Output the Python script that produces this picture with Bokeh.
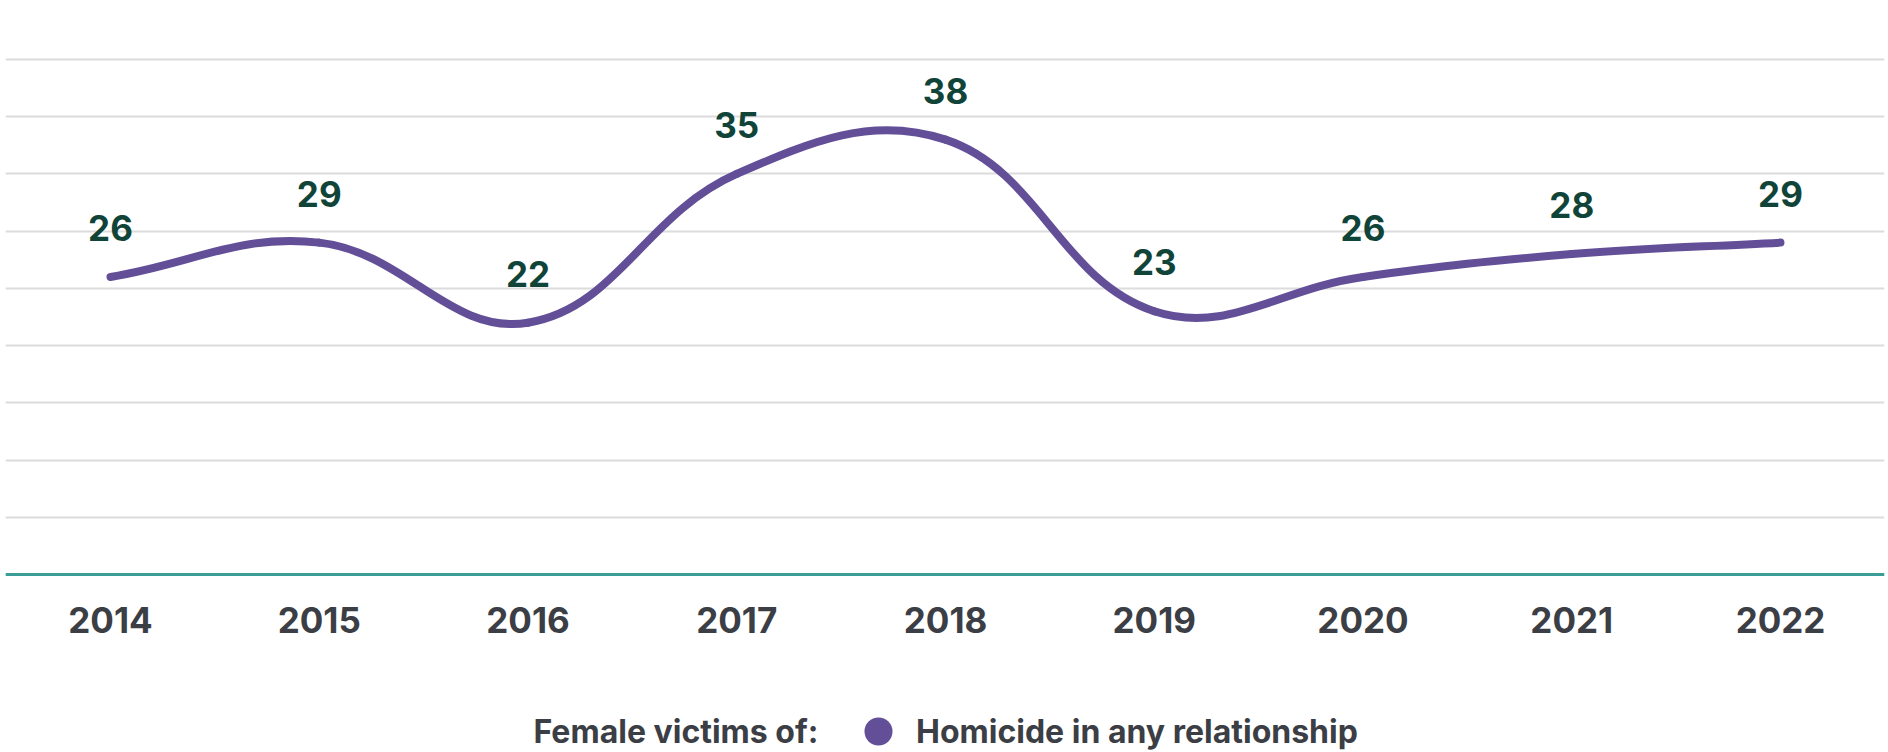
import numpy as np
from bokeh.plotting import figure
from bokeh.models import Range1d, FixedTicker, Legend, LegendItem, Label
from bokeh.core.properties import value
from bokeh.embed import file_html
from bokeh.resources import INLINE

# ---- data ----
years = [2014, 2015, 2016, 2017, 2018, 2019, 2020, 2021, 2022]
victims = [26, 29, 22, 35, 38, 23, 26, 28, 29]
year_labels = ["2014", "2015", "2016", "2017", "2018", "2019", "2020", "2021", "2022"]
series_name = "Homicide in any relationship"
legend_title = "Female victims of:"
y_ticks = [0, 5, 10, 15, 20, 25, 30, 35, 40, 45]

# ---- style ----
LINE_COLOR = "#634f98"
LABEL_COLOR = "#114439"
AXIS_TEXT = "#3c3e45"
BASE_COLOR = "#3a9e96"
GRID_COLOR = "#dcdcdc"
FONT = "Inter"

# ---- layout (pixels) ----
W, H = 1888, 752
LEFT_B, RIGHT_B = 5, 4
FRAME_W = W - LEFT_B - RIGHT_B
TOP_LINE_PX = 59        # y of the top gridline (45) from figure top
BASE_PX = 574           # y of the baseline (0) from figure top
FIRST_X_PX = 105        # x of the first year from frame left
STEP_PX = 208.75        # distance between years
ky = (BASE_PX - TOP_LINE_PX) / (y_ticks[-1] - y_ticks[0])
kx = STEP_PX
Y0 = y_ticks[0] - (H - BASE_PX) / ky
Y1 = y_ticks[-1] + TOP_LINE_PX / ky
X0 = years[0] - FIRST_X_PX / kx
X1 = X0 + FRAME_W / kx

p = figure(width=W, height=H, output_backend="svg", toolbar_location=None,
           x_range=Range1d(X0, X1), y_range=Range1d(Y0, Y1),
           min_border=0, min_border_top=0, min_border_bottom=0,
           min_border_left=LEFT_B, min_border_right=RIGHT_B)
p.outline_line_color = None
p.background_fill_color = "white"
p.border_fill_color = "white"

# grid
p.xgrid.visible = False
p.ygrid.ticker = FixedTicker(ticks=y_ticks)
p.ygrid.grid_line_color = GRID_COLOR
p.ygrid.grid_line_width = 2
p.yaxis.visible = False

# x axis drawn at y = 0 inside the frame
p.xaxis.fixed_location = 0
p.xaxis.ticker = FixedTicker(ticks=years)
p.xaxis.major_label_overrides = {y: l for y, l in zip(years, year_labels)}
p.xaxis.axis_line_color = BASE_COLOR
p.xaxis.axis_line_width = 3
p.xaxis.major_tick_line_color = None
p.xaxis.minor_tick_line_color = None
p.xaxis.major_tick_out = 0
p.xaxis.major_tick_in = 0
p.xaxis.major_label_text_font = FONT
p.xaxis.major_label_text_font_style = "bold"
p.xaxis.major_label_text_font_size = "35px"
p.xaxis.major_label_text_color = AXIS_TEXT
p.xaxis.major_label_standoff = 32

# smooth line (Chart.js style tension spline computed from the data)
t = 0.4
P = np.column_stack([np.array(years, float) * kx, np.array(victims, float) * ky])
n = len(P)
cp_prev = np.zeros_like(P)
cp_next = np.zeros_like(P)
for i in range(n):
    prev = P[i - 1] if i > 0 else P[i]
    nxt = P[i + 1] if i < n - 1 else P[i]
    d01 = np.hypot(*(P[i] - prev))
    d12 = np.hypot(*(nxt - P[i]))
    tot = d01 + d12
    s01 = d01 / tot if tot else 0
    s12 = d12 / tot if tot else 0
    cp_prev[i] = P[i] - t * s01 * (nxt - prev)
    cp_next[i] = P[i] + t * s12 * (nxt - prev)

seg = dict(
    x0=P[:-1, 0] / kx, y0=P[:-1, 1] / ky,
    x1=P[1:, 0] / kx, y1=P[1:, 1] / ky,
    cx0=cp_next[:-1, 0] / kx, cy0=cp_next[:-1, 1] / ky,
    cx1=cp_prev[1:, 0] / kx, cy1=cp_prev[1:, 1] / ky,
)
p.bezier(line_color=LINE_COLOR, line_width=8, line_cap="round", **seg)

# data labels
p.text(x=years, y=victims, text=[str(v) for v in victims],
       text_align="center", text_baseline="alphabetic", y_offset=-49,
       text_font=value(FONT), text_font_style="bold",
       text_font_size="35px", text_color=LABEL_COLOR)

# legend (marker only shown in the legend)
marker = p.scatter(x=years, y=victims, size=0, marker="circle",
                   fill_color=LINE_COLOR, line_color=None)
LEG_CENTER_FROM_BOTTOM = 21
legend = Legend(items=[LegendItem(label=series_name, renderers=[marker])],
                location=(838, LEG_CENTER_FROM_BOTTOM - 35), orientation="horizontal",
                glyph_width=70, glyph_height=70, label_standoff=3,
                padding=0, margin=0, border_line_color=None,
                background_fill_alpha=0,
                label_text_font=FONT, label_text_font_style="bold",
                label_text_font_size="32px", label_text_color=AXIS_TEXT,
                label_text_baseline="middle")
p.add_layout(legend, "center")

p.add_layout(Label(x=528, y=LEG_CENTER_FROM_BOTTOM, x_units="screen", y_units="screen",
                   text=legend_title, text_align="left", text_baseline="middle",
                   text_font=FONT, text_font_style="bold",
                   text_font_size="32px", text_color=AXIS_TEXT))

open("out.html", "w").write(file_html(p, INLINE))
